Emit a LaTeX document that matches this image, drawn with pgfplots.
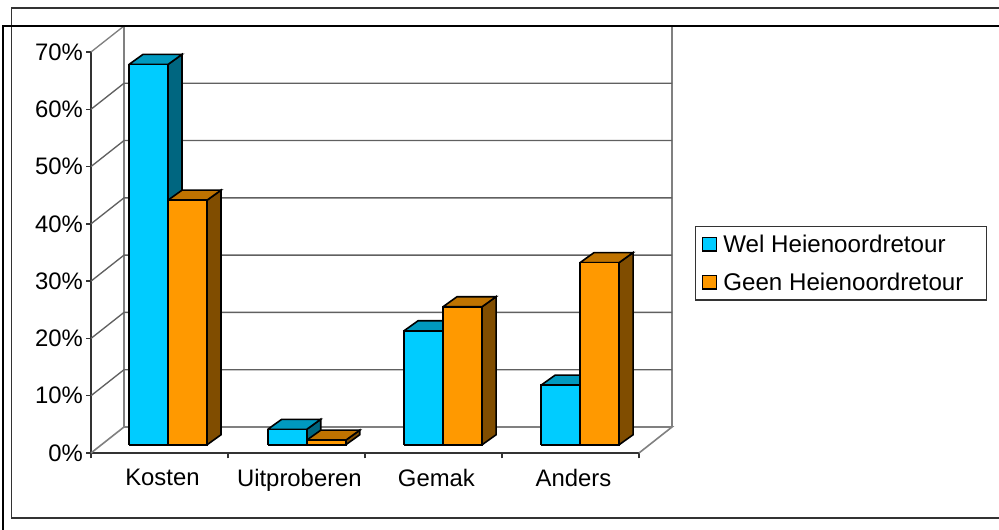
\documentclass[border=0pt]{standalone}
\usepackage{fontspec}
\setmainfont{Liberation Sans}
\usepackage{pgfplots}
\pgfplotsset{compat=1.18}

\definecolor{welfront}{HTML}{00CCFF}
\definecolor{weltop}{HTML}{0099BF}
\definecolor{welside}{HTML}{006680}
\definecolor{geenfront}{HTML}{FF9900}
\definecolor{geentop}{HTML}{BF7300}
\definecolor{geenside}{HTML}{804D00}
\definecolor{wandgrijs}{HTML}{808080}
\definecolor{lijngrijs}{HTML}{606060}
\definecolor{asgrijs}{HTML}{333333}

% one bar: left edge (category units), value in %, colour prefix
\newcommand{\balk}[3]{%
  \pgfmathsetmacro{\xa}{#1}%
  \pgfmathsetmacro{\xb}{#1+0.2847}%
  \pgfmathsetmacro{\xc}{#1+0.2847+0.1022}%
  \pgfmathsetmacro{\xd}{#1+0.1022}%
  \pgfmathsetmacro{\yb}{1.43}%
  \pgfmathsetmacro{\yc}{1.43+1.75}%
  \pgfmathsetmacro{\yt}{#2+1.43}%
  \pgfmathsetmacro{\yu}{#2+1.43+1.75}%
  \addplot[fill=#3side,draw=black,line width=1.2pt,forget plot] coordinates {(\xb,\yb) (\xc,\yc) (\xc,\yu) (\xb,\yt) (\xb,\yb)};
  \addplot[fill=#3top,draw=black,line width=1.2pt,forget plot] coordinates {(\xa,\yt) (\xb,\yt) (\xc,\yu) (\xd,\yu) (\xa,\yt)};
  \addplot[fill=#3front,draw=black,line width=1.2pt,forget plot] coordinates {(\xa,\yb) (\xb,\yb) (\xb,\yt) (\xa,\yt) (\xa,\yb)};
}

\begin{document}
\begin{tikzpicture}[x=0.75pt,y=0.75pt,font=\fontsize{17.9}{21}\selectfont]
\path[use as bounding box,fill=white] (0,0) rectangle (999,530);
\begin{axis}[
  at={(68.25pt,57.75pt)},anchor=south west,
  scale only axis,width=411pt,height=300.75pt,
  clip=false,
  xmin=-0.5,xmax=3.5,ymin=0,ymax=70,
  axis x line*=bottom,axis y line*=left,
  axis line style={asgrijs,line width=1.1pt,-},
  xtick={0,1,2,3},
  xticklabels={Kosten,Uitproberen,Gemak,Anders},
  minor xtick={-0.5,0.5,1.5,2.5,3.5},
  ytick={0,10,...,70},
  yticklabel={\pgfmathprintnumber{\tick}\%},
  /pgf/number format/assume math mode=true,
  major x tick style={draw=none},
  minor x tick style={asgrijs,line width=1pt},
  y tick style={asgrijs,line width=1pt},
  tick align=outside,
  major tick length=3.5pt,minor tick length=4pt,
  yticklabel style={xshift=1pt},
  xticklabel style={xshift=2.2pt,yshift=-5pt},
  legend style={at={(1.102,0.566)},anchor=north west,draw=asgrijs,line width=0.9pt,
    font=\fontsize{18.1}{21}\selectfont,cells={anchor=west,yshift=-2pt},
    inner xsep=5pt,inner ysep=4pt,row sep=9.8pt},
  legend image code/.code={},
]
% back wall and floor
\addplot[wandgrijs,line width=1.4pt,forget plot] coordinates {(3.7409,74.54) (3.7409,4.54)};
\addplot[wandgrijs,line width=1.4pt,forget plot] coordinates {(-0.2591,74.54) (-0.2591,4.54)};
\addplot[wandgrijs,line width=1.4pt,forget plot] coordinates {(-0.2591,74.54) (3.7409,74.54)};
\addplot[wandgrijs,line width=1.2pt,forget plot] coordinates {(-0.5,0) (-0.2591,4.54) (3.7409,4.54) (3.5,0)};
% gridlines
\addplot[lijngrijs,line width=1pt,forget plot] coordinates {(-0.5,10) (-0.2591,14.54) (3.7409,14.54)};
\addplot[lijngrijs,line width=1pt,forget plot] coordinates {(-0.5,20) (-0.2591,24.54) (3.7409,24.54)};
\addplot[lijngrijs,line width=1pt,forget plot] coordinates {(-0.5,30) (-0.2591,34.54) (3.7409,34.54)};
\addplot[lijngrijs,line width=1pt,forget plot] coordinates {(-0.5,40) (-0.2591,44.54) (3.7409,44.54)};
\addplot[lijngrijs,line width=1pt,forget plot] coordinates {(-0.5,50) (-0.2591,54.54) (3.7409,54.54)};
\addplot[lijngrijs,line width=1pt,forget plot] coordinates {(-0.5,60) (-0.2591,64.54) (3.7409,64.54)};
\addplot[wandgrijs,line width=1pt,forget plot] coordinates {(-0.5,70) (-0.2591,74.54)};

% Kosten
\balk{-0.2226}{66.4}{wel}
\balk{0.0621}{42.7}{geen}
% Uitproberen
\balk{0.7899}{2.7}{wel}
\balk{1.0746}{0.8}{geen}
% Gemak
\balk{1.785}{19.9}{wel}
\balk{2.0697}{24.1}{geen}
% Anders
\balk{2.785}{10.4}{wel}
\balk{3.0697}{31.8}{geen}

\addlegendimage{legend image code/.code={\draw[fill=welfront,draw=black,line width=0.9pt] (0pt,-5pt) rectangle (10pt,5pt); \path (13pt,0pt);}}
\addlegendentry{Wel Heienoordretour}
\addlegendimage{legend image code/.code={\draw[fill=geenfront,draw=black,line width=0.9pt] (0pt,-5pt) rectangle (10pt,5pt); \path (13pt,0pt);}}
\addlegendentry{Geen Heienoordretour\rule{10pt}{0pt}}
\end{axis}
% outer frames of the pasted chart
\draw[asgrijs,line width=1.2pt] (999,522) -- (11.5,522) -- (11.5,12) -- (999,12);
\draw[black,line width=1.5pt] (999,504) -- (3,504) -- (3,0);
\end{tikzpicture}
\end{document}
